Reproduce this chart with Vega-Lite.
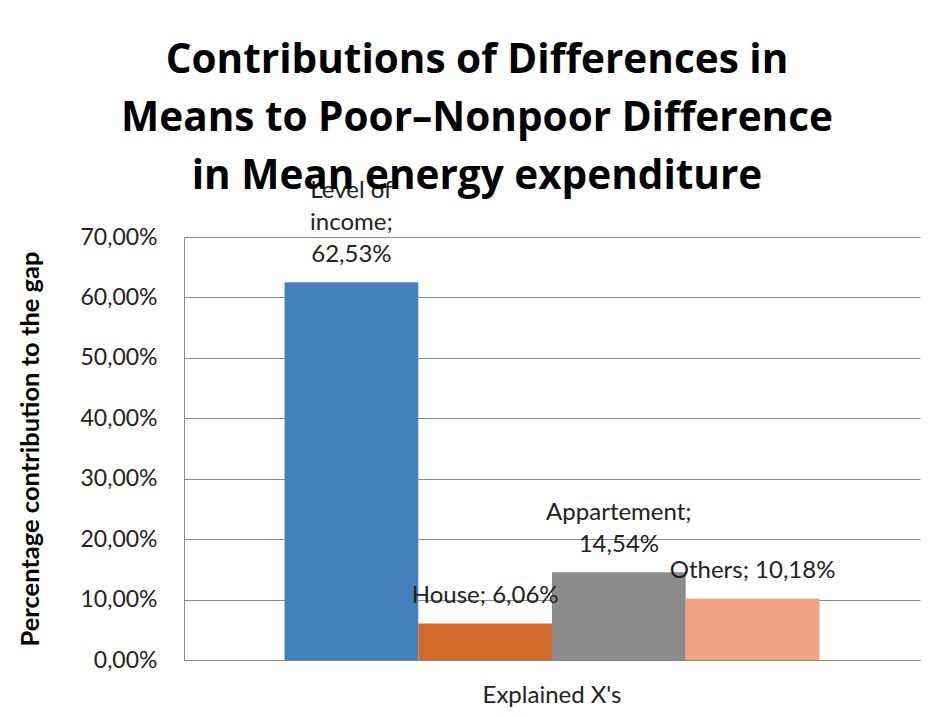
{
  "$schema": "https://vega.github.io/schema/vega-lite/v6.json",
  "width": 736,
  "height": 423,
  "autosize": "none",
  "padding": {"left": 184, "top": 237, "right": 17, "bottom": 57},
  "background": "white",
  "title": {
    "text": ["Contributions of Differences in", "Means to Poor\u2013Nonpoor Difference", "in Mean energy expenditure"],
    "font": "Open Sans",
    "fontSize": 40.5,
    "fontWeight": "bold",
    "color": "black",
    "anchor": "middle",
    "dx": -75,
    "dy": 48,
    "offset": 30,
    "lineHeight": 58
  },
  "data": {
    "values": [
      {"category": "Explained X's", "series": "Level of income", "value": 62.53, "label": "Level of|income;|62,53%"},
      {"category": "Explained X's", "series": "House", "value": 6.06, "label": "House; 6,06%"},
      {"category": "Explained X's", "series": "Appartement", "value": 14.54, "label": "Appartement;|14,54%"},
      {"category": "Explained X's", "series": "Others", "value": 10.18, "label": "Others; 10,18%"}
    ]
  },
  "encoding": {
    "x": {
      "field": "category",
      "type": "nominal",
      "scale": {"paddingInner": 0, "paddingOuter": 0.188},
      "axis": {
        "title": null,
        "labelAngle": 0,
        "labelFont": "Lato",
        "labelFontSize": 24,
        "labelColor": "#222222",
        "labelPadding": 23,
        "ticks": false,
        "domainColor": "#8a8a8a",
        "domainWidth": 1
      }
    },
    "xOffset": {
      "field": "series",
      "type": "nominal",
      "sort": ["Level of income", "House", "Appartement", "Others"],
      "scale": {"paddingInner": 0, "paddingOuter": 0}
    },
    "y": {
      "field": "value",
      "type": "quantitative",
      "scale": {"domain": [0, 70], "nice": false},
      "axis": {
        "title": "Percentage contribution to the gap",
        "titleFont": "Lato",
        "titleFontSize": 25.5,
        "titleFontWeight": "bold",
        "titleColor": "black",
        "titlePadding": 36,
        "values": [0, 10, 20, 30, 40, 50, 60, 70],
        "labelExpr": "replace(format(datum.value, '.2f'), '.', ',') + '%'",
        "labelFont": "Lato",
        "labelFontSize": 23,
        "labelColor": "#222222",
        "labelPadding": 27,
        "ticks": false,
        "grid": true,
        "gridColor": "#8a8a8a",
        "gridWidth": 1,
        "domainColor": "#8a8a8a",
        "domainWidth": 1
      }
    }
  },
  "layer": [
    {
      "mark": {"type": "bar"},
      "encoding": {
        "color": {
          "field": "series",
          "type": "nominal",
          "scale": {
            "domain": ["Level of income", "House", "Appartement", "Others"],
            "range": ["#4481BC", "#D2692A", "#8C8C8C", "#F2A385"]
          },
          "legend": null
        }
      }
    },
    {
      "transform": [{"filter": {"field": "series", "oneOf": ["House", "Others"]}}],
      "mark": {
        "type": "text",
        "baseline": "bottom",
        "align": "center",
        "dy": -15,
        "font": "Lato",
        "fontSize": 24,
        "color": "#222222",
        "lineBreak": "|",
        "lineHeight": 32
      },
      "encoding": {
        "text": {"field": "label", "type": "nominal"}
      }
    },
    {
      "transform": [{"filter": {"field": "series", "oneOf": ["Appartement"]}}],
      "mark": {
        "type": "text",
        "baseline": "bottom",
        "align": "center",
        "dy": -47,
        "font": "Lato",
        "fontSize": 24,
        "color": "#222222",
        "lineBreak": "|",
        "lineHeight": 32
      },
      "encoding": {
        "text": {"field": "label", "type": "nominal"}
      }
    },
    {
      "transform": [{"filter": {"field": "series", "oneOf": ["Level of income"]}}],
      "mark": {
        "type": "text",
        "baseline": "bottom",
        "align": "center",
        "dy": -79,
        "font": "Lato",
        "fontSize": 24,
        "color": "#222222",
        "lineBreak": "|",
        "lineHeight": 32
      },
      "encoding": {
        "text": {"field": "label", "type": "nominal"}
      }
    }
  ],
  "config": {
    "view": {"stroke": null}
  }
}
